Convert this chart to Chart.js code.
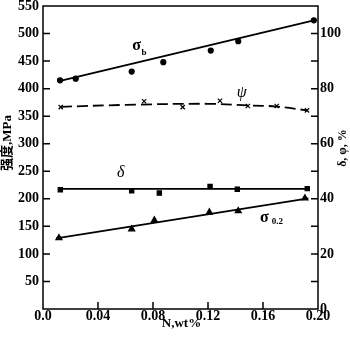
<!DOCTYPE html>
<html>
<head>
<meta charset="utf-8">
<script src="https://cdn.jsdelivr.net/npm/chart.js@4.4.0/dist/chart.umd.min.js"></script>
<style>
  html, body { margin: 0; padding: 0; background: #fff; }
</style>
</head>
<body>
<canvas id="chart" width="350" height="337"></canvas>
<script>
// measured points, N content in wt%
const sigmaBN  = [0.0124, 0.0238, 0.0645, 0.0875, 0.122, 0.142, 0.197];
const sigmaB   = [415, 418, 431, 448, 469, 486, 524];
const sigma02N = [0.0116, 0.0645, 0.081, 0.121, 0.142, 0.1905];
const sigma02  = [129, 145, 161, 175.5, 178, 201];
const deltaN   = [0.0126, 0.0645, 0.0846, 0.1215, 0.1413, 0.1922];
const delta    = [43.3, 42.9, 42.1, 44.5, 43.5, 43.7];
const psiN     = [0.0129, 0.0735, 0.1016, 0.1287, 0.149, 0.170, 0.192];
const psi      = [73.3, 75.4, 73.3, 75.6, 73.7, 73.7, 72.1];

// fitted lines
const sigmaBFitN  = [0.011, 0.197];
const sigmaBFit   = [413, 524];
const sigma02FitN = [0.0095, 0.193];
const sigma02Fit  = [128, 201];
const deltaFitN   = [0.0124, 0.193];
const deltaFit    = [43.6, 43.6];
const psiFitN     = [0.013, 0.06, 0.12, 0.15, 0.17, 0.192];
const psiFit      = [73.4, 74.1, 74.5, 73.9, 73.5, 72.1];

// tick labels
const xTickLabels = ['0.0', '0.04', '0.08', '0.12', '0.16', '0.20'];
const leftTickLabels = ['', '50', '100', '150', '200', '250', '300', '350', '400', '450', '500', '550'];
const rightTickLabels = ['0', '', '20', '', '40', '', '60', '', '80', '', '100', ''];

const serif = '"Liberation Serif", "Times New Roman", serif';
const tickFont = { family: serif, size: 14, weight: 'bold' };

function pts(xs, ys) {
    return xs.map((x, i) => ({ x: x, y: ys[i] }));
}

function fitLine(xs, ys, axis, dash) {
    return {
        data: pts(xs, ys),
        yAxisID: axis,
        showLine: true,
        borderColor: '#000',
        borderWidth: 1.8,
        borderDash: dash || [],
        tension: dash ? 0.4 : 0,
        pointRadius: 0,
        fill: false
    };
}

function marks(xs, ys, axis, style, r) {
    return {
        data: pts(xs, ys),
        yAxisID: axis,
        showLine: false,
        pointStyle: style,
        pointRadius: r,
        backgroundColor: '#000',
        borderColor: '#000',
        borderWidth: 1.2
    };
}

// frame, inward ticks, curve labels and axis titles
const decor = {
    id: 'decor',
    afterDraw(chart) {
        const ctx = chart.ctx;
        const a = chart.chartArea;
        const x = chart.scales.x, yL = chart.scales.yL, yR = chart.scales.yR;
        const tl = 7;
        ctx.save();
        ctx.strokeStyle = '#000';
        ctx.lineWidth = 1.5;
        ctx.strokeRect(a.left, a.top, a.right - a.left, a.bottom - a.top);

        ctx.beginPath();
        x.ticks.forEach(t => {
            if (t.value > x.min + 1e-9 && t.value < x.max - 1e-9) {
                const p = x.getPixelForValue(t.value);
                ctx.moveTo(p, a.bottom);
                ctx.lineTo(p, a.bottom - tl);
            }
        });
        yL.ticks.forEach(t => {
            if (t.value > yL.min && t.value < yL.max) {
                const p = yL.getPixelForValue(t.value);
                ctx.moveTo(a.left, p);
                ctx.lineTo(a.left + tl, p);
            }
        });
        yR.ticks.forEach(t => {
            if (t.value > yR.min && t.value < yR.max) {
                const p = yR.getPixelForValue(t.value);
                ctx.moveTo(a.right, p);
                ctx.lineTo(a.right - tl, p);
            }
        });
        ctx.stroke();

        ctx.fillStyle = '#000';
        ctx.textAlign = 'center';
        ctx.textBaseline = 'middle';

        ctx.font = 'bold 16px ' + serif;
        ctx.fillText('σ', x.getPixelForValue(0.0681), yL.getPixelForValue(477));
        ctx.fillText('σ', x.getPixelForValue(0.161), yL.getPixelForValue(164.6));
        ctx.font = 'bold 9px ' + serif;
        ctx.fillText('b', x.getPixelForValue(0.0735), yL.getPixelForValue(466));
        ctx.fillText('0.2', x.getPixelForValue(0.1705), yL.getPixelForValue(158.4));

        ctx.font = 'italic 16px ' + serif;
        ctx.fillText('ψ', x.getPixelForValue(0.1445), yR.getPixelForValue(78.4));
        ctx.fillText('δ', x.getPixelForValue(0.0565), yR.getPixelForValue(49.3));

        ctx.font = 'bold 13px ' + serif;
        ctx.fillText('N,wt%', (a.left + a.right) / 2 + 1, 324);

        ctx.font = 'bold 13px ' + serif + ', "Noto Sans CJK SC"';
        ctx.save();
        ctx.translate(8, 143);
        ctx.rotate(-Math.PI / 2);
        ctx.fillText('强度,MPa', 0, 0);
        ctx.restore();

        ctx.font = 'bold 12px ' + serif;
        ctx.save();
        ctx.translate(343, 148);
        ctx.rotate(-Math.PI / 2);
        ctx.fillText('δ, φ, %', 0, 0);
        ctx.restore();
        ctx.restore();
    }
};

new Chart(document.getElementById('chart'), {
    type: 'scatter',
    data: {
        datasets: [
            fitLine(sigmaBFitN, sigmaBFit, 'yL'),
            fitLine(sigma02FitN, sigma02Fit, 'yL'),
            fitLine(deltaFitN, deltaFit, 'yR'),
            fitLine(psiFitN, psiFit, 'yR', [11, 5]),
            marks(sigmaBN, sigmaB, 'yL', 'circle', 2.5),
            marks(sigma02N, sigma02, 'yL', 'triangle', 3.5),
            marks(deltaN, delta, 'yR', 'rect', 3),
            marks(psiN, psi, 'yR', 'crossRot', 3)
        ]
    },
    options: {
        responsive: false,
        animation: false,
        devicePixelRatio: 1,
        layout: { padding: { top: 6, left: 0, right: 0, bottom: 0 } },
        plugins: {
            legend: { display: false },
            tooltip: { enabled: false }
        },
        scales: {
            x: {
                type: 'linear',
                position: 'bottom',
                min: 0,
                max: 0.2,
                grid: { display: false, drawTicks: false },
                border: { display: false },
                ticks: {
                    stepSize: 0.04,
                    autoSkip: false,
                    maxRotation: 0,
                    padding: -1,
                    color: '#000',
                    font: tickFont,
                    callback: (v, i) => xTickLabels[i]
                },
                afterFit: s => { s.height = 28; s.paddingLeft = 0; s.paddingRight = 0; }
            },
            yL: {
                type: 'linear',
                position: 'left',
                min: 0,
                max: 550,
                grid: { display: false, drawTicks: false },
                border: { display: false },
                ticks: {
                    stepSize: 50,
                    autoSkip: false,
                    padding: 4,
                    color: '#000',
                    font: tickFont,
                    callback: (v, i) => leftTickLabels[i]
                },
                afterFit: s => { s.width = 43; s.paddingTop = 0; s.paddingBottom = 0; }
            },
            yR: {
                type: 'linear',
                position: 'right',
                min: 0,
                max: 110,
                grid: { display: false, drawTicks: false },
                border: { display: false },
                ticks: {
                    stepSize: 10,
                    autoSkip: false,
                    padding: 2,
                    color: '#000',
                    font: tickFont,
                    callback: (v, i) => rightTickLabels[i]
                },
                afterFit: s => { s.width = 32; s.paddingTop = 0; s.paddingBottom = 0; }
            }
        }
    },
    plugins: [decor]
});
</script>
</body>
</html>
